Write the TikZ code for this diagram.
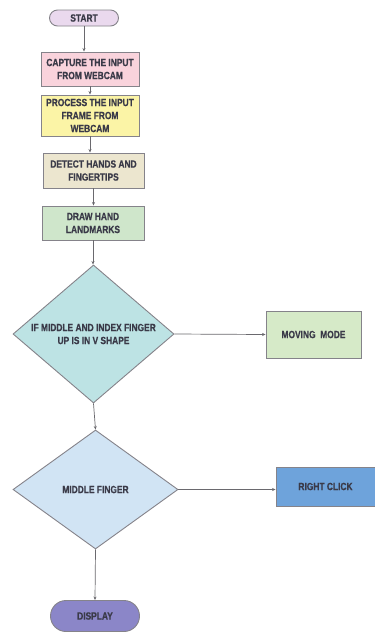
\documentclass[tikz,border=0pt]{standalone}
\usepackage{fontspec}
\newfontfamily\lblfont{Liberation Sans Bold}[FakeStretch=0.8, FakeBold=0.6]
\usetikzlibrary{shapes.geometric,shapes.misc,arrows.meta}
\definecolor{cstart}{HTML}{EAD9EE}
\definecolor{ccap}{HTML}{F9D3DC}
\definecolor{cproc}{HTML}{FBF4A6}
\definecolor{cdet}{HTML}{ECE6CF}
\definecolor{cdraw}{HTML}{CFE6CB}
\definecolor{cdone}{HTML}{BDE3E4}
\definecolor{cmove}{HTML}{D6EAC8}
\definecolor{cdtwo}{HTML}{D1E4F4}
\definecolor{cright}{HTML}{6EA3DB}
\definecolor{cdisp}{HTML}{8B86C8}
\definecolor{cedge}{HTML}{85838A}
\definecolor{ctext}{HTML}{3A3A48}
\tikzset{
  lbl/.style={font=\lblfont\fontsize{10.5}{13}\selectfont, text=ctext, align=center},
  boxnode/.style={lbl, draw=cedge, line width=0.9pt, rectangle, inner sep=0pt},
  termnode/.style={lbl, draw=cedge, line width=0.9pt, rounded rectangle, inner sep=0pt},
  decnode/.style={draw=cedge, line width=0.9pt, diamond, inner sep=0pt},
  arr/.style={draw=cedge!80!black, line width=0.7pt, -{Stealth[length=3.5pt,width=3pt]}}
}
\begin{document}
\begin{tikzpicture}[x=1pt,y=-1pt]
\useasboundingbox[fill=white] (0,0) rectangle (375,633);
\node[termnode, fill=cstart, minimum width=69pt, minimum height=16pt] (start) at (84,18) {START};
\node[boxnode, fill=ccap, minimum width=98pt, minimum height=34pt] (cap) at (90,69) {CAPTURE THE INPUT\\FROM WEBCAM};
\node[boxnode, fill=cproc, minimum width=98pt, minimum height=41pt] (proc) at (90,115.5) {PROCESS THE INPUT\\FRAME FROM\\WEBCAM};
\node[boxnode, fill=cdet, minimum width=101pt, minimum height=35pt] (det) at (93.5,170.5) {DETECT HANDS AND\\FINGERTIPS};
\node[boxnode, fill=cdraw, minimum width=102pt, minimum height=34pt] (drw) at (93,223) {DRAW HAND\\LANDMARKS};
\node[decnode, fill=cdone, minimum width=161pt, minimum height=138pt] (done) at (93.5,334) {};
\node[lbl] (donet) at (done.center) {IF MIDDLE AND INDEX FINGER\\UP IS IN V SHAPE};
\node[boxnode, fill=cmove, minimum width=95pt, minimum height=47pt] (move) at (313.5,334.5) {MOVING\ \ MODE};
\node[decnode, fill=cdtwo, minimum width=165pt, minimum height=119pt] (dtwo) at (95.5,489.5) {};
\node[lbl] (dtwot) at (dtwo.center) {MIDDLE FINGER};
\node[boxnode, fill=cright, minimum width=99pt, minimum height=39pt] (right) at (325.5,486.5) {RIGHT CLICK};
\node[termnode, fill=cdisp, minimum width=89pt, minimum height=31pt] (disp) at (95,616) {DISPLAY};
\draw[arr] (start.south) -- (start.south |- cap.north);
\draw[arr] (cap.south) -- (cap.south |- proc.north);
\draw[arr] (proc.south) -- (proc.south |- det.north);
\draw[arr] (det.south) -- (det.south |- drw.north);
\draw[arr] (drw.south) -- (drw.south |- done.north);
\draw[arr] (done.east) -- (move.west);
\draw[arr] (done.south) -- (dtwo.north);
\draw[arr] (dtwo.east) -- (dtwo.east -| right.west);
\draw[arr] (dtwo.south) -- (disp.north);
\end{tikzpicture}
\end{document}
